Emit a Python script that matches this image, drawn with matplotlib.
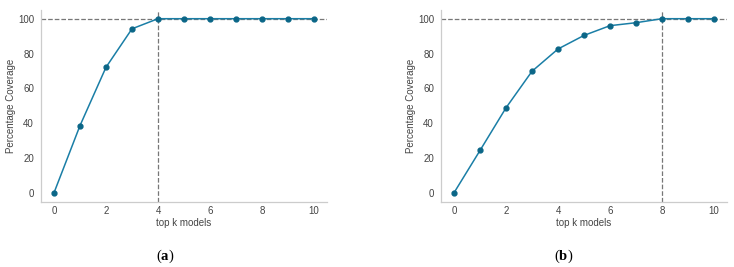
import matplotlib
matplotlib.use("Agg")
import matplotlib.pyplot as plt
import numpy as np

plt.rcParams['font.family'] = 'Liberation Sans'
plt.rcParams['mathtext.fontset'] = 'custom'
plt.rcParams['mathtext.rm'] = 'Liberation Serif'
plt.rcParams['mathtext.bf'] = 'Liberation Serif:bold'

# top k models vs percentage coverage
k = list(range(11))
cov_a = [0, 38.6, 72.1, 94.2, 100, 100, 100, 100, 100, 100, 100]
cov_b = [0, 24.3, 48.8, 69.8, 82.6, 90.4, 96.0, 97.7, 100, 100, 100]
cut_a = 4
cut_b = 8

line_col = '#1a7ea6'
mark_col = '#0b6687'
grey = '#444444'

fig = plt.figure(figsize=(7.34, 2.67), dpi=100)
W, H = 734, 267

def panel(left, right, y, cut, lab, labx):
    ax = fig.add_axes([left / W, 1 - 201.5 / H, (right - left) / W, (201.5 - 10) / H])
    ax.plot(k, y, color=line_col, lw=1.1, marker='o', ms=3.5,
            mfc=mark_col, mec=mark_col, zorder=3)
    ax.axhline(100, color='#777777', ls='--', lw=0.9, zorder=2)
    ax.axvline(cut, color='#777777', ls='--', lw=0.9, zorder=2)
    ax.set_xlim(-0.5, 10.5)
    ax.set_ylim(-5, 105)
    ax.set_xticks([0, 2, 4, 6, 8, 10])
    ax.set_yticks([0, 20, 40, 60, 80, 100])
    ax.tick_params(length=0, labelsize=7, colors=grey)
    ax.tick_params(axis='x', pad=3.5)
    ax.tick_params(axis='y', pad=5)
    ax.set_xlabel('top k models', fontsize=7, color=grey, labelpad=1.5)
    ax.set_ylabel('Percentage Coverage', fontsize=7, color=grey, labelpad=1.5)
    for s in ['top', 'right']:
        ax.spines[s].set_visible(False)
    for s in ['left', 'bottom']:
        ax.spines[s].set_color('#cccccc')
        ax.spines[s].set_linewidth(0.9)
    fig.text(labx / W, 1 - 256 / H, lab, ha='center', va='center', fontsize=10.5)
    return ax

panel(41, 327, cov_a, cut_a, r'$\mathrm{(}\mathbf{a}\mathrm{)}$', 165)
panel(441, 727, cov_b, cut_b, r'$\mathrm{(}\mathbf{b}\mathrm{)}$', 564)

fig.savefig('out.png', dpi=100)
